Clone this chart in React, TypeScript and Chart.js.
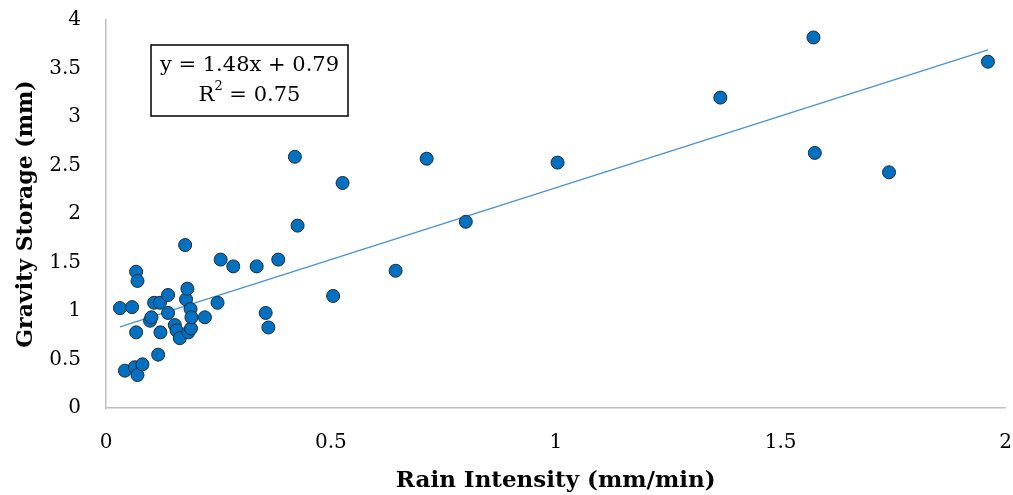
import React, { useEffect, useRef } from "react";
import { Chart, registerables } from "chart.js";

Chart.register(...registerables);

const rainIntensity = [
  0.031, 0.042, 0.058, 0.064, 0.067, 0.067, 0.07, 0.07, 0.081, 0.098, 0.101, 0.107,
  0.116, 0.12, 0.121, 0.138, 0.138, 0.153, 0.157, 0.164, 0.176, 0.178, 0.181, 0.183,
  0.188, 0.189, 0.19, 0.22, 0.248, 0.255, 0.283, 0.335, 0.355, 0.361, 0.383, 0.42,
  0.426, 0.505, 0.526, 0.644, 0.713, 0.8, 1.004, 1.366, 1.573, 1.576, 1.741, 1.961,
];
const gravityStorage = [
  1.03, 0.385, 1.04, 0.42, 0.78, 1.405, 1.31, 0.34, 0.45, 0.9, 0.935, 1.085,
  0.55, 1.085, 0.78, 1.165, 0.98, 0.855, 0.8, 0.72, 1.68, 1.12, 1.23, 0.78,
  1.02, 0.82, 0.935, 0.935, 1.085, 1.53, 1.46, 1.46, 0.98, 0.83, 1.53, 2.59,
  1.88, 1.155, 2.32, 1.415, 2.57, 1.92, 2.53, 3.2, 3.82, 2.63, 2.43, 3.57,
];
const trendX = [0.031, 1.961];
const trendY = [0.836, 3.692];
const equationText = "y = 1.48x + 0.79";
const r2Value = "0.75";

const FONT = "'DejaVu Serif', 'Liberation Serif', serif";

export default function App() {
  const ref = useRef<HTMLCanvasElement | null>(null);

  useEffect(() => {
    if (!ref.current) return;
    const annotation = {
      id: "eqBox",
      afterDraw(chart: any) {
        const ctx = chart.ctx;
        ctx.save();
        const x0 = 151, y0 = 45, w = 197, h = 71;
        ctx.fillStyle = "#ffffff";
        ctx.fillRect(x0, y0, w, h);
        ctx.strokeStyle = "#000000";
        ctx.lineWidth = 1.5;
        ctx.strokeRect(x0, y0, w, h);
        ctx.fillStyle = "#000000";
        ctx.font = `21px ${FONT}`;
        ctx.textBaseline = "middle";
        ctx.textAlign = "center";
        const cx = x0 + w / 2;
        ctx.fillText(equationText, cx, y0 + 21);
        const rest = " = " + r2Value;
        const wR = ctx.measureText("R").width;
        const wRest = ctx.measureText(rest).width;
        ctx.font = `13px ${FONT}`;
        const w2 = ctx.measureText("2").width;
        const total = wR + w2 + wRest;
        let sx = cx - total / 2;
        ctx.textAlign = "left";
        ctx.font = `21px ${FONT}`;
        ctx.fillText("R", sx, y0 + 51);
        sx += wR;
        ctx.font = `13px ${FONT}`;
        ctx.fillText("2", sx, y0 + 42);
        sx += w2;
        ctx.font = `21px ${FONT}`;
        ctx.fillText(rest, sx, y0 + 51);
        ctx.restore();
      },
    };

    const zeroPad = (scale: any) => {
      scale.paddingLeft = 0;
      scale.paddingRight = 0;
      scale.paddingTop = 0;
      scale.paddingBottom = 0;
    };

    const chart = new Chart(ref.current, {
      type: "scatter",
      data: {
        datasets: [
          {
            type: "line",
            label: "Trend",
            data: trendX.map((x, i) => ({ x, y: trendY[i] })),
            borderColor: "#4A93D6",
            borderWidth: 1.5,
            pointRadius: 0,
            fill: false,
            order: 2,
          } as any,
          {
            label: "Gravity Storage",
            data: rainIntensity.map((x, i) => ({ x, y: gravityStorage[i] })),
            backgroundColor: "#0070C0",
            borderColor: "#1c2b3a",
            borderWidth: 1,
            pointRadius: 6.5,
            order: 1,
          },
        ],
      },
      options: {
        animation: false,
        responsive: false,
        maintainAspectRatio: false,
        layout: { padding: { top: 20, right: 7, left: 0, bottom: 0 } },
        plugins: { legend: { display: false }, tooltip: { enabled: false } },
        scales: {
          x: {
            type: "linear",
            min: 0,
            max: 2,
            ticks: {
              stepSize: 0.5,
              color: "#000",
              font: { family: FONT, size: 20 },
              padding: 23,
              callback: (v: any) => String(Number(v)),
            },
            grid: { display: false, drawTicks: false },
            border: { display: true, color: "#bfbfbf", width: 1.5 },
            title: {
              display: true,
              text: "Rain Intensity (mm/min)",
              color: "#000",
              font: { family: FONT, size: 23, weight: "bold" },
              padding: { top: 0, bottom: 0 },
            },
            afterFit(scale: any) {
              scale.height = 87;
              zeroPad(scale);
            },
          },
          y: {
            type: "linear",
            min: 0,
            max: 4,
            ticks: {
              stepSize: 0.5,
              color: "#000",
              font: { family: FONT, size: 20 },
              padding: 25,
              callback: (v: any) => String(Number(v)),
            },
            grid: { display: false, drawTicks: false },
            border: { display: true, color: "#bfbfbf", width: 1.5 },
            title: {
              display: true,
              text: "Gravity Storage (mm)",
              color: "#000",
              font: { family: FONT, size: 22, weight: "bold" },
              padding: { top: 13, bottom: 0 },
            },
            afterFit(scale: any) {
              scale.width = 106;
              zeroPad(scale);
            },
          },
        },
      },
      plugins: [annotation],
    } as any);
    return () => chart.destroy();
  }, []);

  return (
    <div style={{ position: "absolute", left: 0, top: 0, width: 1013, height: 495, background: "#fff" }}>
      <canvas ref={ref} width={1013} height={495} style={{ display: "block" }} />
    </div>
  );
}
